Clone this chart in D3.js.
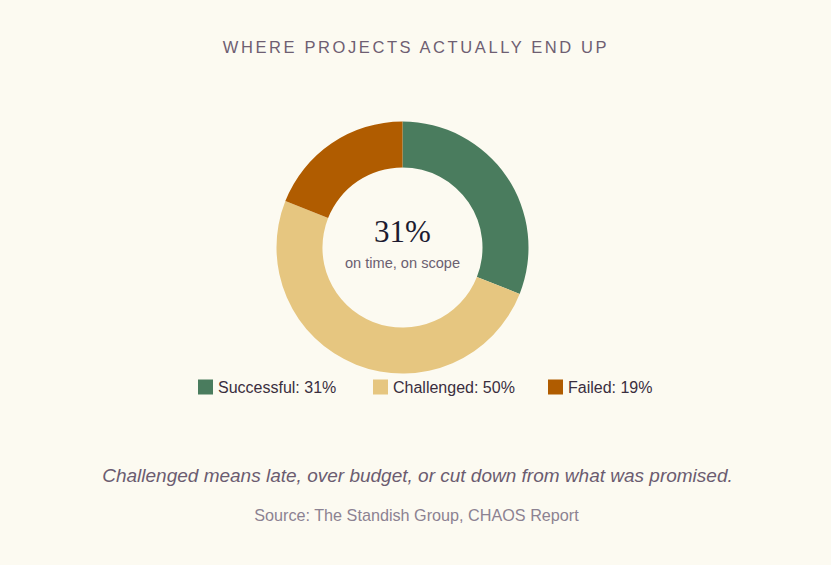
<!DOCTYPE html>
<html>
<head>
<meta charset="utf-8">
<title>Where projects actually end up</title>
<script src="https://d3js.org/d3.v7.min.js"></script>
<style>
  html, body { margin: 0; padding: 0; background: #fcfaf1; }
  svg { display: block; }
</style>
</head>
<body>
<script>
// chart data
var categories = ["Successful", "Challenged", "Failed"];
var shares = [31, 50, 19];
var colors = ["#4a7c5e", "#e6c680", "#b05c00"];

var width = 831,
    height = 565;

var svg = d3.select("body").append("svg")
    .attr("width", width)
    .attr("height", height);

svg.append("rect")
    .attr("width", width)
    .attr("height", height)
    .attr("fill", "#fcfaf1");

// title
svg.append("text")
    .attr("x", 416)
    .attr("y", 53)
    .attr("text-anchor", "middle")
    .attr("font-family", "Liberation Sans, Arial, sans-serif")
    .attr("font-size", 16.5)
    .attr("letter-spacing", "2.6px")
    .attr("fill", "#6e5e72")
    .text("WHERE PROJECTS ACTUALLY END UP");

// donut
var pie = d3.pie().sort(null).value(function(d) { return d; });
var arc = d3.arc().innerRadius(80).outerRadius(126);

var g = svg.append("g").attr("transform", "translate(402.5,247.5)");

g.selectAll("path")
    .data(pie(shares))
    .enter()
    .append("path")
    .attr("d", arc)
    .attr("fill", function(d, i) { return colors[i]; });

g.append("text")
    .attr("y", -6)
    .attr("text-anchor", "middle")
    .attr("font-family", "Liberation Serif, Georgia, serif")
    .attr("font-size", 31)
    .attr("fill", "#1c1a30")
    .text(shares[0] + "%");

g.append("text")
    .attr("y", 20)
    .attr("text-anchor", "middle")
    .attr("font-family", "Liberation Sans, Arial, sans-serif")
    .attr("font-size", 14.6)
    .attr("fill", "#6b6070")
    .text("on time, on scope");

// legend
var legend = svg.selectAll(".legend")
    .data(categories)
    .enter()
    .append("g")
    .attr("class", "legend")
    .attr("transform", function(d, i) { return "translate(" + (198 + i * 175) + ",379.5)"; });

legend.append("rect")
    .attr("width", 15)
    .attr("height", 15)
    .attr("fill", function(d, i) { return colors[i]; });

legend.append("text")
    .attr("x", 20)
    .attr("y", 13.5)
    .attr("font-family", "Liberation Sans, Arial, sans-serif")
    .attr("font-size", 16)
    .attr("fill", "#3a2e3e")
    .text(function(d, i) { return d + ": " + shares[i] + "%"; });

// notes
svg.append("text")
    .attr("x", 417.5)
    .attr("y", 482)
    .attr("text-anchor", "middle")
    .attr("font-family", "Liberation Sans, Arial, sans-serif")
    .attr("font-style", "italic")
    .attr("font-size", 19)
    .attr("fill", "#6b5c70")
    .text("Challenged means late, over budget, or cut down from what was promised.");

svg.append("text")
    .attr("x", 416.5)
    .attr("y", 521)
    .attr("text-anchor", "middle")
    .attr("font-family", "Liberation Sans, Arial, sans-serif")
    .attr("font-size", 16.2)
    .attr("fill", "#8c8292")
    .text("Source: The Standish Group, CHAOS Report");
</script>
</body>
</html>
